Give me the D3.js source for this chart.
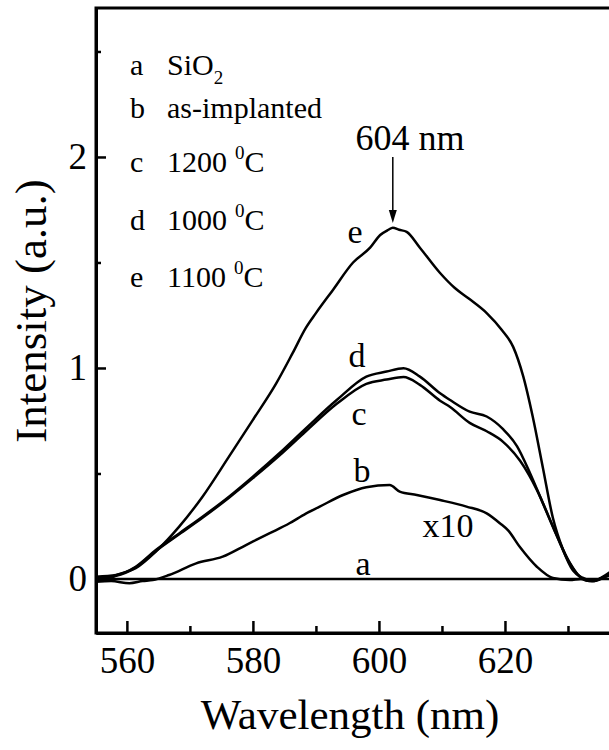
<!DOCTYPE html>
<html>
<head>
<meta charset="utf-8">
<script src="https://cdn.jsdelivr.net/npm/d3@7"></script>
<style>
  body { margin: 0; background: #fff; }
  svg text { font-family: "Liberation Serif", "Times New Roman", serif; fill: #000; }
</style>
</head>
<body>
<svg id="chart" width="609" height="750"></svg>
<script>
// spectra: [wavelength nm, intensity a.u.]
var curveE = [[555.1,-0.01],[557,0.0],[558.5,0.02],[561.4,0.051],[564.6,0.13],[568.3,0.248],[572,0.39],[576.2,0.58],[580,0.754],
  [583.7,0.927],[586.3,1.07],[588.4,1.19],[590,1.26],[592.7,1.37],[595.9,1.5],[598.6,1.57],[600.2,1.63],[601.5,1.655],[602.2,1.665],
  [603.2,1.655],[604.4,1.645],[606.5,1.57],[609.7,1.45],[612,1.38],[614.2,1.33],[617.1,1.26],[619.5,1.18],[621.3,1.1],[622.9,0.96],
  [624.4,0.77],[626,0.53],[627.6,0.29],[629.2,0.14],[630.8,0.04],[632.4,0.005],[634,-0.01],[635.5,0.01],[637,0.04]];
var curveD = [[555.1,0.011],[558.3,0.019],[561.4,0.058],[564.6,0.137],[568.3,0.216],[572,0.295],[576.2,0.39],[580,0.485],[584.2,0.596],
  [588.4,0.714],[593.3,0.848],[598,0.959],[601.2,0.983],[603.9,0.999],[606.5,0.959],[609.7,0.88],[611.3,0.848],[614.4,0.793],
  [617.1,0.77],[619.7,0.71],[621.9,0.63],[624,0.5],[626,0.36],[628.3,0.2],[630.3,0.076],[631.9,0.01],[633.5,-0.01],[635,0.0],[637,0.03]];
var curveC = [[555.1,0.005],[558.3,0.015],[561.4,0.055],[564.6,0.133],[568.3,0.212],[572,0.29],[576.2,0.385],[580,0.478],[584.2,0.585],
  [588.4,0.7],[593.3,0.83],[598,0.925],[601.2,0.945],[603.9,0.957],[606.5,0.92],[609.7,0.845],[611.3,0.815],[614.4,0.74],
  [617.1,0.7],[619.7,0.65],[622.4,0.56],[625.1,0.42],[627.6,0.25],[629.8,0.1],[631.9,0.01],[633.5,-0.01],[635,0.0],[637,0.03]];
var curveB = [[555.1,-0.013],[557.5,-0.01],[560.4,-0.02],[562.5,-0.01],[564.1,-0.005],[566.7,0.019],[571,0.074],[575.2,0.106],
  [578.9,0.161],[582.6,0.216],[585.8,0.264],[588.4,0.31],[590.6,0.343],[594.3,0.398],[598,0.435],[601.7,0.445],[603.3,0.414],
  [606,0.398],[609.7,0.374],[613.9,0.343],[617.1,0.311],[619.2,0.264],[620.5,0.23],[622.4,0.15],[625.1,0.057],[627.6,0.005],
  [630.3,-0.005],[632,0.0],[634,-0.01],[636,0.01],[637,0.02]];
var curveA = [[555.1,0],[640,0]];

var curveNames = ["e","d","c","b","a"];
var curveData = [curveE, curveD, curveC, curveB, curveA];

var xMajor = [560,580,600,620];
var xMinor = [570,590,610,630];
var yMajor = [0,1,2];
var yMinor = [0.5,1.5,2.5];

var legendKeys = ["a","b","c","d","e"];
var legendMain = ["SiO","as-implanted","1200","1000","1100"];
var legendSub = ["2","","","",""];
var legendSup = ["","","0","0","0"];
var legendTail = ["","","C","C","C"];

var curveLabels = [["e",355,243],["d",357,367],["c",359,425],["b",362,482],["x10",448,537],["a",363,575]];

var svg = d3.select("#chart");

var xScale = d3.scaleLinear().domain([555.1, 640]).range([96, 631]);
var yScale = d3.scaleLinear().domain([-0.256, 2.706]).range([633, 8]);

svg.append("clipPath").attr("id","plotclip")
  .append("rect").attr("x",96).attr("y",8).attr("width",535).attr("height",625);

// frame
svg.append("rect")
  .attr("x",96).attr("y",8).attr("width",535).attr("height",625)
  .style("fill","none").style("stroke","#000").style("stroke-width","3px");

var xAxis = d3.axisBottom(xScale).tickValues(xMajor).tickSize(-12).tickSizeOuter(0).tickPadding(14).tickFormat(d3.format("d"));
var xAxisMinor = d3.axisBottom(xScale).tickValues(xMinor).tickSize(-7).tickSizeOuter(0).tickFormat("");
var yAxis = d3.axisLeft(yScale).tickValues(yMajor).tickSize(-10).tickSizeOuter(0).tickPadding(9).tickFormat(d3.format("d"));
var yAxisMinor = d3.axisLeft(yScale).tickValues(yMinor).tickSize(-5).tickSizeOuter(0).tickFormat("");

[xAxis, xAxisMinor].forEach(function(ax) {
  svg.append("g").attr("transform","translate(0,633)").call(ax);
});
[yAxis, yAxisMinor].forEach(function(ax) {
  svg.append("g").attr("transform","translate(96,0)").call(ax);
});
svg.selectAll(".domain").style("stroke-width","3px");
svg.selectAll(".tick line").style("stroke-width","2.5px");
svg.selectAll(".tick text").style("font-size","37px").style("font-family","'Liberation Serif', serif");

// curves
var line = d3.line()
  .x(function(d) { return xScale(d[0]); })
  .y(function(d) { return yScale(d[1]); })
  .curve(d3.curveMonotoneX);

svg.append("g").attr("clip-path","url(#plotclip)")
  .selectAll("path.spec").data(curveData).enter()
  .append("path")
  .attr("class", function(d,i) { return "spec " + curveNames[i]; })
  .attr("d", line)
  .style("fill","none").style("stroke","#000").style("stroke-width","2.5px").style("stroke-linejoin","round");

// curve letters
svg.selectAll("text.clabel").data(curveLabels).enter()
  .append("text").attr("class","clabel")
  .attr("x", function(d) { return d[1]; })
  .attr("y", function(d) { return d[2]; })
  .attr("text-anchor","middle")
  .style("font-size","34px")
  .text(function(d) { return d[0]; });

// legend
legendKeys.forEach(function(k,i) {
  var yPos = [75,118,172,230,287][i];
  svg.append("text").attr("x",130).attr("y",yPos).style("font-size","30px").text(k);
  var t = svg.append("text").attr("x",167).attr("y",yPos).style("font-size","30px");
  t.append("tspan").text(legendMain[i]);
  if (legendSub[i]) t.append("tspan").attr("dy",9).style("font-size","19px").text(legendSub[i]);
  if (legendSup[i]) {
    t.append("tspan").attr("dx",8).attr("dy",-13).style("font-size","19px").text(legendSup[i]);
    t.append("tspan").attr("dy",13).text(legendTail[i]);
  }
});

// peak annotation
var peakX = xScale(602.2);
svg.append("text").attr("x",410).attr("y",150).attr("text-anchor","middle").style("font-size","36px").text("604 nm");
svg.append("line").attr("x1",peakX).attr("x2",peakX).attr("y1",157).attr("y2",214)
  .style("stroke","#000").style("stroke-width","1.5px");
svg.append("path")
  .attr("d","M" + (peakX-4) + ",210 L" + (peakX+4) + ",210 L" + peakX + ",223 Z")
  .style("fill","#000");

// axis titles
svg.append("text").attr("x",350).attr("y",729).attr("text-anchor","middle").style("font-size","43px").text("Wavelength (nm)");
svg.append("text").attr("transform","translate(46,311) rotate(-90)").attr("text-anchor","middle").style("font-size","45px").text("Intensity (a.u.)");
</script>
</body>
</html>
